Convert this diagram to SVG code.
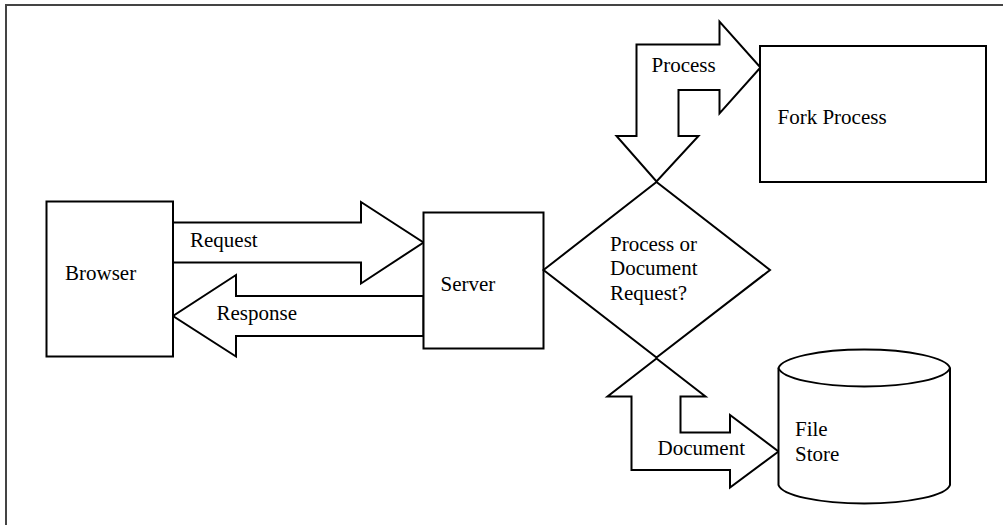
<svg xmlns="http://www.w3.org/2000/svg" width="1003" height="525" viewBox="0 0 1003 525">
  <style>
    .shape { fill: #ffffff; stroke: #000000; stroke-width: 2; stroke-linejoin: miter; }
    .label { font-family: 'Liberation Serif', 'DejaVu Serif', serif; font-size: 21px; fill: #000000; }
    .frame { stroke: #444444; stroke-width: 2; fill: none; }
  </style>
  <rect width="1003" height="525" fill="#ffffff"/>
  <!-- page frame: top and left edges -->
  <path class="frame" d="M6,525 V5 H1003"/>

  <g id="connectors" font-family="Liberation Serif, DejaVu Serif, serif">
    <!-- Browser to Server -->
    <g id="request-arrow">
      <polygon class="shape" points="173,222.5 361,222.5 361,202 423.5,242.5 361,283.5 361,262.5 173,262.5"/>
      <text class="label" x="190" y="247">Request</text>
    </g>
    <!-- Server to Browser -->
    <g id="response-arrow">
      <polygon class="shape" points="423.5,296 236,296 236,275 173,316 236,356.5 236,336 423.5,336"/>
      <text class="label" x="216.5" y="320">Response</text>
    </g>
    <!-- decision to Fork Process -->
    <g id="process-arrow">
      <polygon class="shape" points="636.5,44.5 719.5,44.5 719.5,21.5 760.5,67.5 719.5,113.5 719.5,90 678.5,90 678.5,136 698.5,136 656.5,181.5 616.5,136 636.5,136"/>
      <text class="label" x="651.5" y="71.5">Process</text>
    </g>
    <!-- decision to File Store -->
    <g id="document-arrow">
      <polygon class="shape" points="656.5,358.5 705.5,396.5 680.5,396.5 680.5,432.5 730,432.5 730,415 778.5,451.5 730,487.5 730,470 631.5,470 631.5,396.5 607.5,396.5"/>
      <text class="label" x="657.5" y="455">Document</text>
    </g>
  </g>

  <g id="browser">
    <rect class="shape" x="46.5" y="201.5" width="126.5" height="155"/>
    <text class="label" x="65" y="280">Browser</text>
  </g>

  <g id="server">
    <rect class="shape" x="423.5" y="212.5" width="120" height="136"/>
    <text class="label" x="440.5" y="290.5">Server</text>
  </g>

  <g id="decision">
    <polygon class="shape" points="543.5,270 656.5,182 770,270 656.5,357.5"/>
    <text class="label" x="610" y="250.5">Process or</text>
    <text class="label" x="610" y="275">Document</text>
    <text class="label" x="610" y="299.5">Request?</text>
  </g>

  <g id="fork-process">
    <rect class="shape" x="760" y="46" width="226" height="136"/>
    <text class="label" x="777.5" y="124">Fork Process</text>
  </g>

  <g id="file-store">
    <path class="shape" d="M778.5,368 A86,20 0 0 1 950,368 V485 A86,20 0 0 1 778.5,485 Z"/>
    <path class="shape" fill="none" d="M778.5,368 A86,20 0 0 0 950,368"/>
    <text class="label" x="795" y="436">File</text>
    <text class="label" x="795" y="460.5">Store</text>
  </g>
</svg>
